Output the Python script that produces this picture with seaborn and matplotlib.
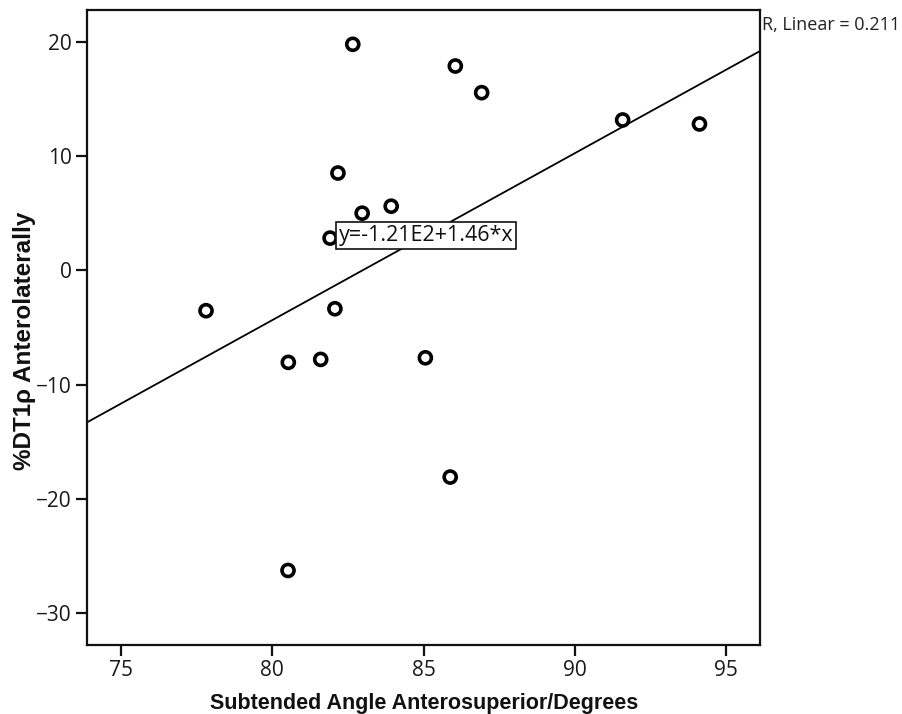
import numpy as np
import pandas as pd
import seaborn as sns
import matplotlib
matplotlib.use("Agg")
import matplotlib.pyplot as plt

# Data
angle = [82.66, 86.05, 86.92, 91.58, 94.12, 82.17, 82.97, 83.93, 81.91,
         77.81, 82.07, 80.53, 81.60, 85.06, 85.88, 80.52]
dt1rho = [19.77, 17.87, 15.54, 13.15, 12.80, 8.51, 5.00, 5.61, 2.82,
          -3.53, -3.36, -8.05, -7.79, -7.65, -18.08, -26.25]
x_ticks = [75, 80, 85, 90, 95]
y_ticks = [-30, -20, -10, 0, 10, 20]
eq_label = "y=-1.21E2+1.46*x"
r2_label = "R, Linear = 0.211"
x_label = "Subtended Angle Anterosuperior/Degrees"
y_label = "%DT1\u03c1 Anterolaterally"

df = pd.DataFrame({"angle": angle, "dt1rho": dt1rho})

sns.set_theme(style="white")
plt.rcParams["font.family"] = ["Open Sans", "DejaVu Sans"]

fig = plt.figure(figsize=(9.02, 7.14), dpi=100)
ax = fig.add_axes([87.3 / 902, 1 - 645 / 714, (760 - 87.3) / 902, (645 - 10) / 714])
ax.set_xlim(73.886, 96.12)
ax.set_ylim(-32.77, 22.77)

sns.regplot(data=df, x="angle", y="dt1rho", ax=ax, scatter=False, ci=None,
            truncate=False, line_kws={"color": "black", "lw": 1.3})
sns.scatterplot(data=df, x="angle", y="dt1rho", ax=ax, s=75,
                facecolor="none", edgecolor="black", linewidth=2.6, zorder=3)

for sp in ax.spines.values():
    sp.set_color("#111111")
    sp.set_linewidth(1.6)
    sp.set_visible(True)

ax.set_xticks(x_ticks)
ax.set_yticks(y_ticks)
ax.tick_params(axis="both", which="major", direction="out", length=8, width=1.6,
               color="#111111", labelsize=15, labelcolor="#1a1a1a",
               left=True, bottom=True, pad=3)
ax.set_yticklabels([str(v).replace("-", "\u2212") for v in y_ticks])

ax.set_xlabel(x_label, fontsize=15.5, fontweight="bold", family="Liberation Sans",
              color="#111111")
ax.set_ylabel(y_label, fontsize=17.5, fontweight="bold", family="Liberation Sans",
              color="#111111")
ax.xaxis.set_label_coords(0.5, -(703 - 645) / 635, transform=ax.transAxes)
ax.xaxis.label.set_verticalalignment("center")
ax.yaxis.set_label_coords((25 - 87.3) / 672.7, (645 - 341) / 635, transform=ax.transAxes)
ax.yaxis.label.set_rotation_mode("anchor")
ax.yaxis.label.set_verticalalignment("center")

ax.text(82.2, 3.05, eq_label, fontsize=15.5, color="#111111", ha="left", va="center",
        bbox=dict(boxstyle="square,pad=0.12", facecolor="white", edgecolor="#111111", lw=1.2),
        zorder=4)
fig.text(762 / 902, 1 - 25 / 714, r2_label, fontsize=13, color="#222222",
         ha="left", va="center")

fig.savefig("out.png", dpi=100, facecolor="white")
